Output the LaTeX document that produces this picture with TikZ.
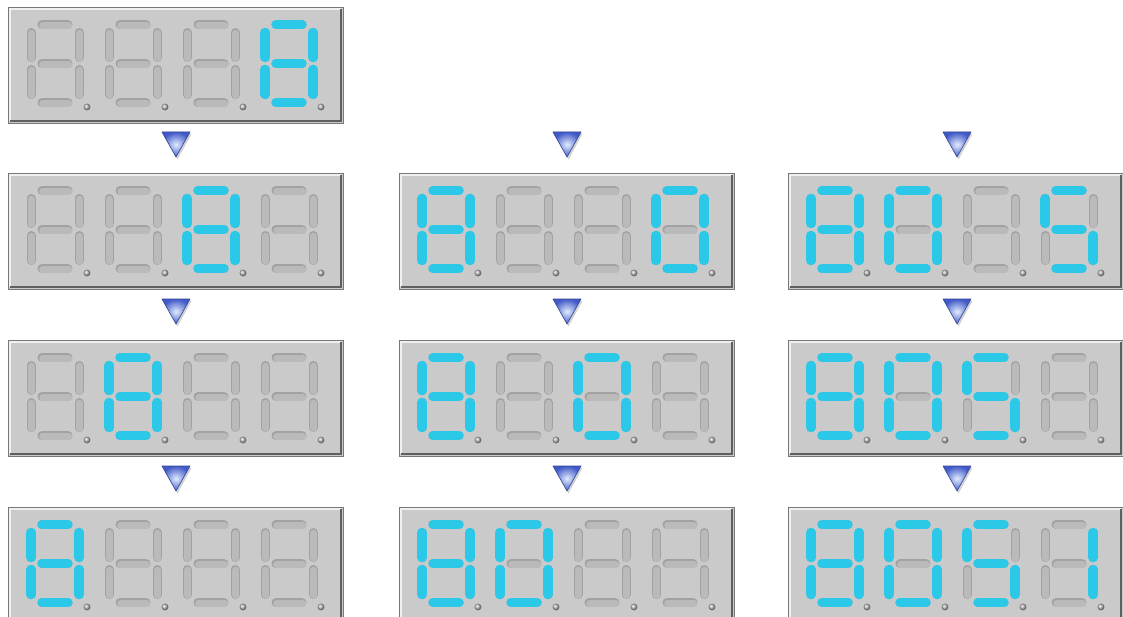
\documentclass[tikz,border=0pt]{standalone}
\definecolor{panelfill}{RGB}{202,202,202}
\definecolor{edgec}{RGB}{120,120,120}
\definecolor{darkedge}{RGB}{95,95,95}
\definecolor{lightedge}{RGB}{240,240,240}
\definecolor{offdark}{RGB}{162,162,162}
\definecolor{offlight}{RGB}{186,186,186}
\definecolor{oncol}{RGB}{44,200,232}
\definecolor{arrdark}{RGB}{66,90,200}
\definecolor{arrlight}{RGB}{225,236,255}
\tikzset{
  offsegA/.style={line width=9pt, line cap=round, draw=offdark},
  offsegB/.style={line width=7pt, line cap=round, draw=offlight, shift={(0.7,0.7)}},
  onseg/.style={line width=9.5pt, line cap=round, draw=oncol},
  panelbox/.style={draw=edgec, line width=1pt, fill=panelfill, minimum width=335pt, minimum height=116pt, inner sep=0pt, anchor=north west},
  hledge/.style={line width=2pt, draw=lightedge},
  dkedge/.style={line width=2.5pt, draw=darkedge},
  arrowtri/.style={inner color=arrlight, outer color=arrdark, draw=arrdark!75!black, line width=0.6pt, line join=round},
  arrowshadow/.style={fill=black, opacity=0.18},
  dotball/.style={ball color=gray!55}
}
\def\segA{(15,4.5)--(41,4.5)}
\def\segB{(52,12.5)--(52,37.5)}
\def\segC{(52,49.5)--(52,74.5)}
\def\segD{(15,82.5)--(41,82.5)}
\def\segE{(4,49.5)--(4,74.5)}
\def\segF{(4,12.5)--(4,37.5)}
\def\segG{(15,43.5)--(41,43.5)}
\def\Off{}
\def\Eight{A,B,C,D,E,F,G}
\def\Zero{A,B,C,D,E,F}
\def\Five{A,C,D,F,G}
\def\One{B,C}
\newcommand\drawsegx[2]{\draw[#2] #1;}
\newcommand\drawsegy[2]{\expandafter\drawsegx\expandafter{#1}{#2}}
\newcommand\drawseg[2]{\expandafter\drawsegy\csname seg#2\endcsname{#1}}
\newcommand\dgt[3]{%
  \begin{scope}[shift={(#1,#2)}]
    \foreach \s in {A,B,C,D,E,F,G}{\drawseg{offsegA}{\s}\drawseg{offsegB}{\s}}
    \ifx#3\Off\else
      \foreach \s in #3 {\drawseg{onseg}{\s}}
    \fi
    \shade[dotball] (60,87) circle (3.4);
  \end{scope}}
\newcommand\panel[7]{%
  \node[panelbox] (#1) at (#2,#3) {};
  \draw[hledge] (#2+2,#3+114) -- (#2+2,#3+2) -- (#2+333,#3+2);
  \draw[dkedge] (#2+2,#3+114.2) -- (#2+333.2,#3+114.2) -- (#2+333.2,#3+2);
  \dgt{#2+19}{#3+13}{#4}
  \dgt{#2+97}{#3+13}{#5}
  \dgt{#2+175}{#3+13}{#6}
  \dgt{#2+253}{#3+13}{#7}
}
\newcommand\arrowdn[3]{%
  \fill[arrowshadow] (#2-13,#3+2) -- (#2+15.5,#3+2) -- (#2+1.5,#3+27.5) -- cycle;
  \shadedraw[arrowtri] (#2-14,#3) -- (#2+14,#3) -- (#2,#3+25) -- cycle;
  \coordinate (#1) at (#2,#3+12);
}
\begin{document}
\begin{tikzpicture}[x=1pt,y=-1pt]
  \fill[white] (0,0) rectangle (1123,617);
  \useasboundingbox (0,0) rectangle (1123,617);
  \clip (0,0) rectangle (1123,617);
  % column 1
  \panel{p11}{8}{7}{\Off}{\Off}{\Off}{\Eight}
  \panel{p12}{8}{173}{\Off}{\Off}{\Eight}{\Off}
  \panel{p13}{8}{340}{\Off}{\Eight}{\Off}{\Off}
  \panel{p14}{8}{507}{\Eight}{\Off}{\Off}{\Off}
  % column 2
  \panel{p22}{399}{173}{\Eight}{\Off}{\Off}{\Zero}
  \panel{p23}{399}{340}{\Eight}{\Off}{\Zero}{\Off}
  \panel{p24}{399}{507}{\Eight}{\Zero}{\Off}{\Off}
  % column 3
  \panel{p32}{788}{173}{\Eight}{\Zero}{\Off}{\Five}
  \panel{p33}{788}{340}{\Eight}{\Zero}{\Five}{\Off}
  \panel{p34}{788}{507}{\Eight}{\Zero}{\Five}{\One}
  % arrows
  \arrowdn{a11}{176}{132}
  \arrowdn{a12}{176}{299}
  \arrowdn{a13}{176}{466}
  \arrowdn{a21}{567}{132}
  \arrowdn{a22}{567}{299}
  \arrowdn{a23}{567}{466}
  \arrowdn{a31}{957}{132}
  \arrowdn{a32}{957}{299}
  \arrowdn{a33}{957}{466}
\end{tikzpicture}
\end{document}
